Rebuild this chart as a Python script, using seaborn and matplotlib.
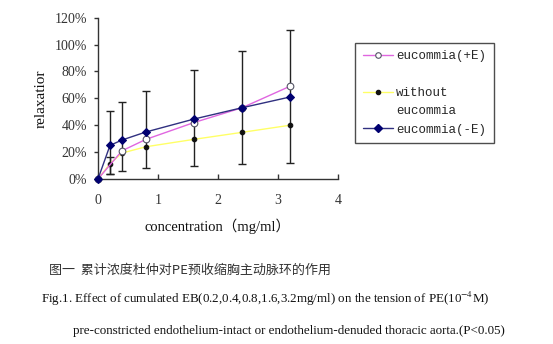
import matplotlib
matplotlib.use("Agg")
import matplotlib.pyplot as plt
import seaborn as sns
import numpy as np
from matplotlib.lines import Line2D
from matplotlib.ticker import PercentFormatter

# ---- data (percent relaxation) ----
conc = [0, 0.2, 0.4, 0.8, 1.6, 2.4, 3.2]
plus_e = [0, np.nan, 21, 29.5, 42, 53, 69]      # eucommia(+E)
without = [0, 11.4, 19.3, 24, 29.5, 34.7, 40]   # without eucommia
minus_e = [0, 25, 29, 35, 44.6, 53, 61]         # eucommia(-E)

err_x = [0.2, 0.4, 0.8, 1.6, 2.4, 3.2]
err_low = [3.7, 6, 8.2, 9.7, 10.9, 11.9]
err_high = [50.6, 57, 65.7, 81.3, 95.5, 110.6]
small_err_x = [0.2]
small_err_low = [3.7]
small_err_high = [16.6]

x_ticks = [0, 1, 2, 3, 4]
y_ticks = [0, 20, 40, 60, 80, 100, 120]

sns.set_style("ticks")
plt.rcParams['font.family'] = ['Liberation Serif', 'Noto Sans CJK SC', 'DejaVu Sans']
plt.rcParams['mathtext.fontset'] = 'stix'

fig = plt.figure(figsize=(5.53, 3.44), dpi=100)
ax = fig.add_axes([98/553, (344-179)/344, 240/553, 161.3/344])

axis_col = '#333333'
ax.errorbar(err_x, err_low, yerr=[np.zeros(len(err_x)), np.array(err_high) - np.array(err_low)],
            fmt='none', ecolor='#222222', elinewidth=1.0, capsize=3, capthick=1.0, zorder=2)
ax.errorbar(small_err_x, small_err_low,
            yerr=[np.zeros(1), np.array(small_err_high) - np.array(small_err_low)],
            fmt='none', ecolor='#222222', elinewidth=1.0, capsize=3, capthick=1.0, zorder=2)

sns.lineplot(x=conc, y=without, ax=ax, color='#FFFF66', lw=1.0, marker='o', markersize=3.3,
             markerfacecolor='#111111', markeredgecolor='#111111', clip_on=False, zorder=3)
sns.lineplot(x=conc, y=plus_e, ax=ax, color='#E066E0', lw=1.0, marker='o', markersize=4.8,
             markerfacecolor='white', markeredgecolor='#555566', markeredgewidth=0.8,
             clip_on=False, zorder=4)
sns.lineplot(x=conc, y=minus_e, ax=ax, color='#303080', lw=1.0, marker='D', markersize=4.3,
             markerfacecolor='#000070', markeredgecolor='#000070', clip_on=False, zorder=5)

ax.set_xlim(0, 4)
ax.set_ylim(0, 120)
ax.set_xticks(x_ticks)
ax.set_yticks(y_ticks)
ax.yaxis.set_major_formatter(PercentFormatter(decimals=0))
for s in ['top', 'right']:
    ax.spines[s].set_visible(False)
for s in ['left', 'bottom']:
    ax.spines[s].set_color(axis_col)
    ax.spines[s].set_linewidth(1.0)
ax.tick_params(axis='x', direction='in', length=3.5, width=1, color=axis_col, pad=11,
               labelsize=10, labelcolor='#333333')
ax.tick_params(axis='y', direction='out', length=3, width=1, color=axis_col, pad=5,
               labelsize=10, labelcolor='#333333')
for lab in ax.get_xticklabels() + ax.get_yticklabels():
    lab.set_fontfamily(['Liberation Serif'])

ax.set_xlabel('concentration（mg/ml）', fontsize=10.5, color='#111111',
              family=['Liberation Serif', 'Noto Sans CJK SC'], labelpad=8)
ax.set_ylabel('relaxatior', fontsize=11, color='#111111', family=['Liberation Serif'], labelpad=5)

handles = [
    Line2D([], [], color='#E066E0', lw=1.0, marker='o', markersize=4,
           markerfacecolor='white', markeredgecolor='#555566', markeredgewidth=0.8),
    Line2D([], [], color='none'),
    Line2D([], [], color='#FFFF66', lw=1.0, marker='o', markersize=3,
           markerfacecolor='#111111', markeredgecolor='#111111'),
    Line2D([], [], color='none'),
    Line2D([], [], color='#303080', lw=1.0, marker='D', markersize=3.6,
           markerfacecolor='#000070', markeredgecolor='#000070'),
]
labels = ['eucommia(+E)', ' ', 'without', 'eucommia', 'eucommia(-E)']
leg = ax.legend(handles, labels, loc='upper left', bbox_to_anchor=(355/553, 1 - 43/344),
                bbox_transform=fig.transFigure, borderaxespad=0, frameon=True, fancybox=False,
                prop={'family': 'Liberation Mono', 'size': 9}, labelspacing=0.5,
                handlelength=2.4, handletextpad=0.3, borderpad=0.6)
leg.get_frame().set_edgecolor('#222222')
leg.get_frame().set_linewidth(1.0)

fig.text(49/553, 1 - 270/344, '图一  累计浓度杜仲对PE预收缩胸主动脉环的作用', fontsize=9.4,
         va='center', ha='left', color='#333333',
         family=['Noto Sans CJK SC', 'DejaVu Sans'])
fig.text(41/553, 1 - 299/344,
         'Fig.1. Effect of cumulated EB(0.2,0.4,0.8,1.6,3.2mg/ml) on the tension of PE(10$^{-4}$M)',
         fontsize=9.35, va='center', ha='left', color='#111111', family=['Liberation Serif'])
fig.text(73/553, 1 - 331/344,
         'pre-constricted endothelium-intact or endothelium-denuded thoracic aorta.(P<0.05)',
         fontsize=9.4, va='center', ha='left', color='#111111', family=['Liberation Serif'])

fig.savefig('out.png', dpi=100)
